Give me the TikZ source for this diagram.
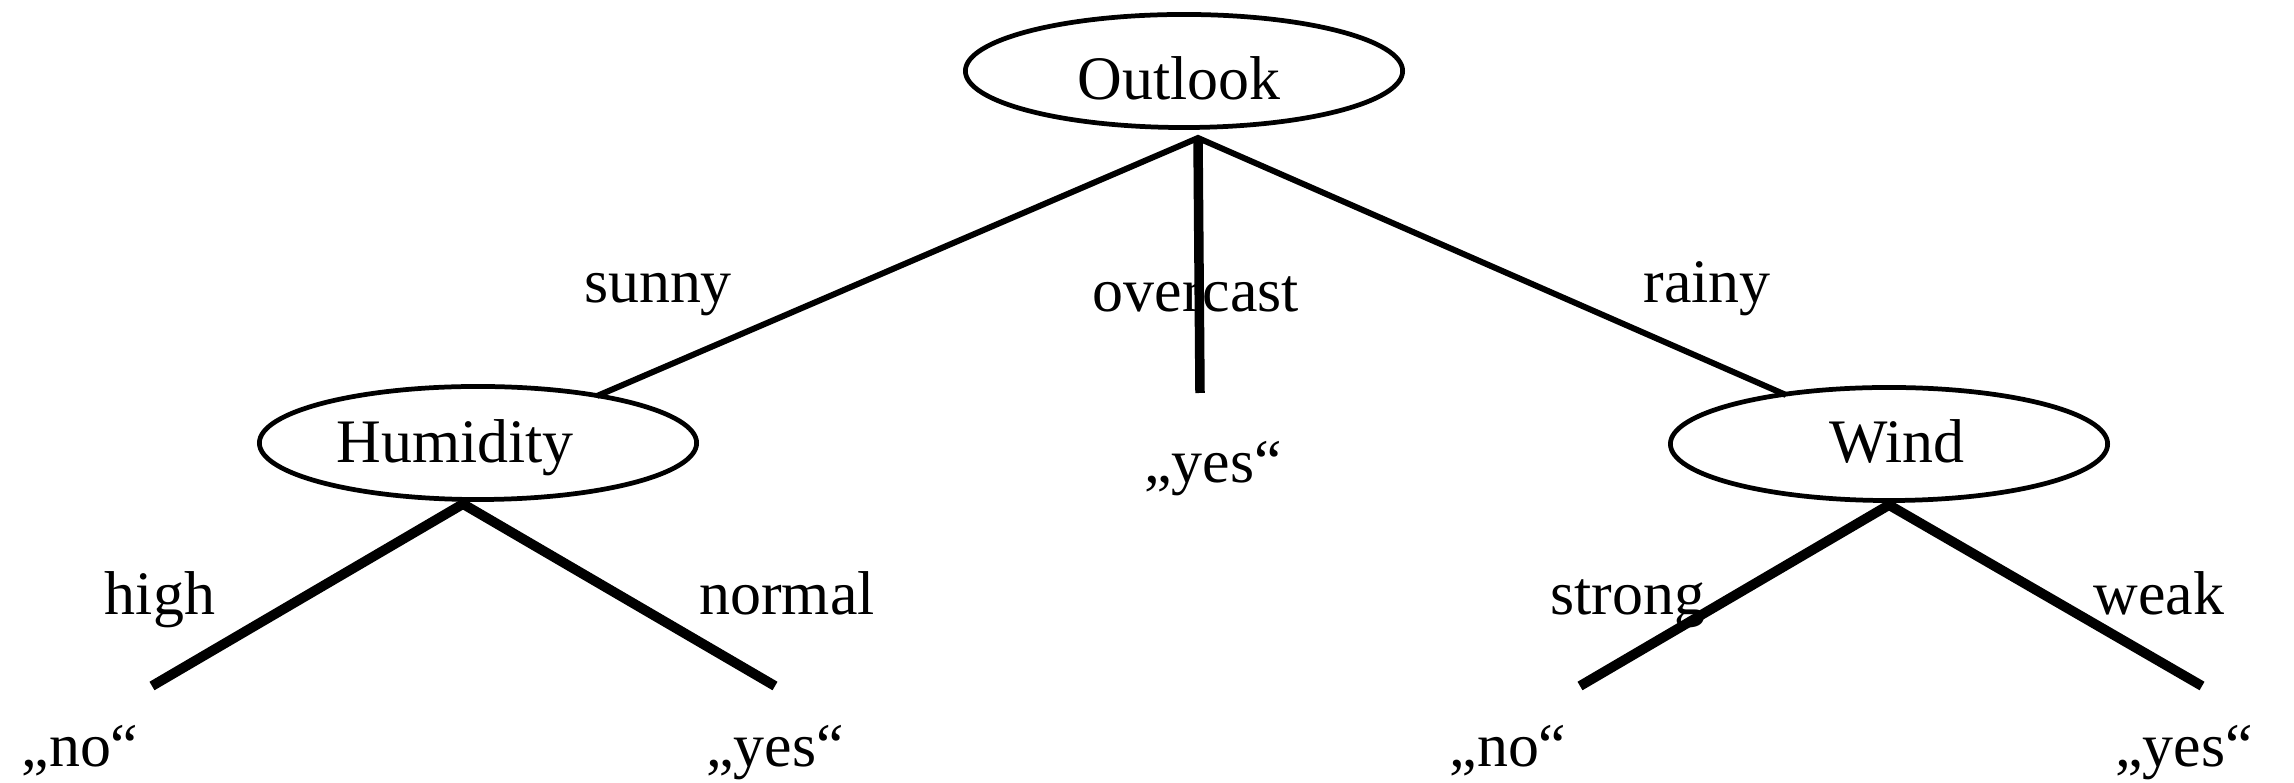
\documentclass[tikz,border=0pt]{standalone}
\usepackage{fontspec}
\setmainfont{Liberation Serif}
\usetikzlibrary{shapes.geometric}
\begin{document}
\begin{tikzpicture}[x=0.01cm,y=-0.01cm,
  every node/.style={font=\fontsize{17.6pt}{20pt}\selectfont},
  attr/.style={ellipse,draw,line width=1.35pt,minimum width=4.37cm,minimum height=1.13cm,inner sep=0pt},
  txt/.style={anchor=base,inner sep=0pt},
  thinedge/.style={line width=1.7pt,line join=miter,line cap=butt},
  midedge/.style={line width=2.7pt,line cap=butt},
  thickedge/.style={line width=2.8pt,line join=miter,line cap=butt}]
\useasboundingbox (0,0) rectangle (2294,783);

% attribute nodes
\node[attr] (outlook) at (1184,71) {};
\node[attr] (humidity) at (478,443) {};
\node[attr] (wind) at (1889,444) {};
\node[txt] (toutlook) at (1179,100) {Outlook};
\node[txt] (thumidity) at (455,463) {Humidity};
\node[txt] (twind) at (1897,463) {Wind};

% branch points
\coordinate (oapex) at (1198,138);
\coordinate (hsun) at (597,396);
\coordinate (wrain) at (1786,395);
\coordinate (oend) at (1200,393);
\coordinate (hapex) at (463,504);
\coordinate (hleft) at (152,686);
\coordinate (hright) at (775,686);
\coordinate (wapex) at (1889,505);
\coordinate (wleft) at (1580,686);
\coordinate (wright) at (2202,686);

% edges
\draw[thinedge] (hsun) -- (oapex) -- (wrain);
\draw[midedge] (oapex) -- (oend);
\draw[thickedge] (hleft) -- (hapex) -- (hright);
\draw[thickedge] (wleft) -- (wapex) -- (wright);

% edge labels
\node[txt] (lsunny) at (658,303) {sunny};
\node[txt] (lovercast) at (1196,312) {overcast};
\node[txt] (lrainy) at (1707,303) {rainy};
\node[txt] (lhigh) at (160,615) {high};
\node[txt] (lnormal) at (787,615) {normal};
\node[txt] (lstrong) at (1628,615) {strong};
\node[txt] (lweak) at (2159,615) {weak};

% leaves
\node[txt] (yesmid) at (1213,483) {„yes“};
\node[txt] (nohl) at (80,767) {„no“};
\node[txt] (yeshn) at (775,767) {„yes“};
\node[txt] (nows) at (1508,767) {„no“};
\node[txt] (yesww) at (2184,767) {„yes“};
\end{tikzpicture}
\end{document}
